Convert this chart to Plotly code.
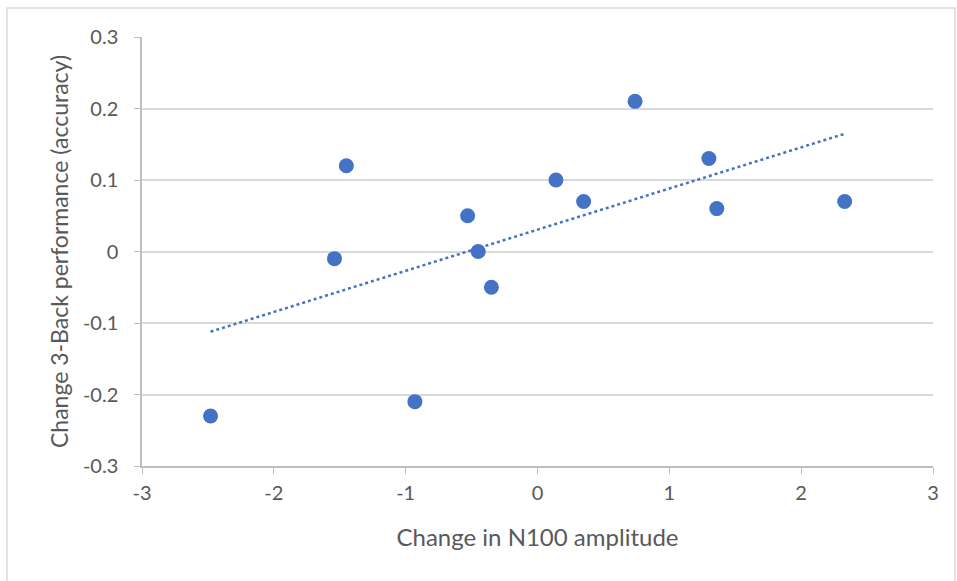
import numpy as np
import plotly.graph_objects as go

n100_change = [-2.48, -1.54, -1.45, -0.93, -0.53, -0.45, -0.35, 0.14, 0.35, 0.74, 1.30, 1.36, 2.33]
acc_change = [-0.23, -0.01, 0.12, -0.21, 0.05, 0.00, -0.05, 0.10, 0.07, 0.21, 0.13, 0.06, 0.07]

x_ticks = [-3, -2, -1, 0, 1, 2, 3]
y_ticks = [-0.3, -0.2, -0.1, 0, 0.1, 0.2, 0.3]
y_tick_text = ["-0.3", "-0.2", "-0.1", "0", "0.1", "0.2", "0.3"]

slope, intercept = np.polyfit(n100_change, acc_change, 1)
tx = [min(n100_change), max(n100_change)]
ty = [slope * v + intercept for v in tx]

blue = "#4472C4"
grey_text = "#595959"
font_family = "Lato, 'Open Sans', sans-serif"

fig = go.Figure()
fig.add_trace(go.Scatter(x=tx, y=ty, mode="lines",
                         line=dict(color=blue, width=2.5, dash="dot"),
                         hoverinfo="skip", showlegend=False))
fig.add_trace(go.Scatter(x=n100_change, y=acc_change, mode="markers",
                         marker=dict(color=blue, size=15, line=dict(width=0)),
                         showlegend=False))

fig.update_layout(
    width=957, height=581,
    margin=dict(l=142, r=24, t=37, b=115),
    paper_bgcolor="white", plot_bgcolor="white",
    font=dict(family=font_family, color=grey_text),
    xaxis=dict(range=[-3, 3], tickvals=x_ticks, ticktext=[str(v) for v in x_ticks],
               showgrid=False, zeroline=False, showline=True, linecolor="#bfbfbf",
               linewidth=1.5, ticks="outside", ticklen=6, tickcolor="#bfbfbf",
               tickfont=dict(size=20, color=grey_text), ticklabelstandoff=2,
               title=dict(text="Change in N100 amplitude", font=dict(size=24, color=grey_text),
                          standoff=26)),
    yaxis=dict(range=[-0.3, 0.3], tickvals=y_ticks, ticktext=y_tick_text,
               showgrid=True, gridcolor="#d9d9d9", gridwidth=1.5, zeroline=False,
               showline=True, linecolor="#bfbfbf", linewidth=1.5,
               ticks="outside", ticklen=6, tickcolor="#bfbfbf",
               tickfont=dict(size=20, color=grey_text), ticklabelstandoff=12,
               title=dict(text="Change 3-Back performance (accuracy)",
                          font=dict(size=23, color=grey_text), standoff=8)),
    shapes=[dict(type="rect", xref="paper", yref="paper",
                 x0=(7 - 142) / 791, x1=(955 - 142) / 791,
                 y0=(466 - 590) / 429, y1=(466 - 8) / 429,
                 line=dict(color="#d9d9d9", width=1.5), layer="below")],
)

fig.write_html("out.html", config={"displayModeBar": False},
               post_script="document.body.style.margin='0';")
